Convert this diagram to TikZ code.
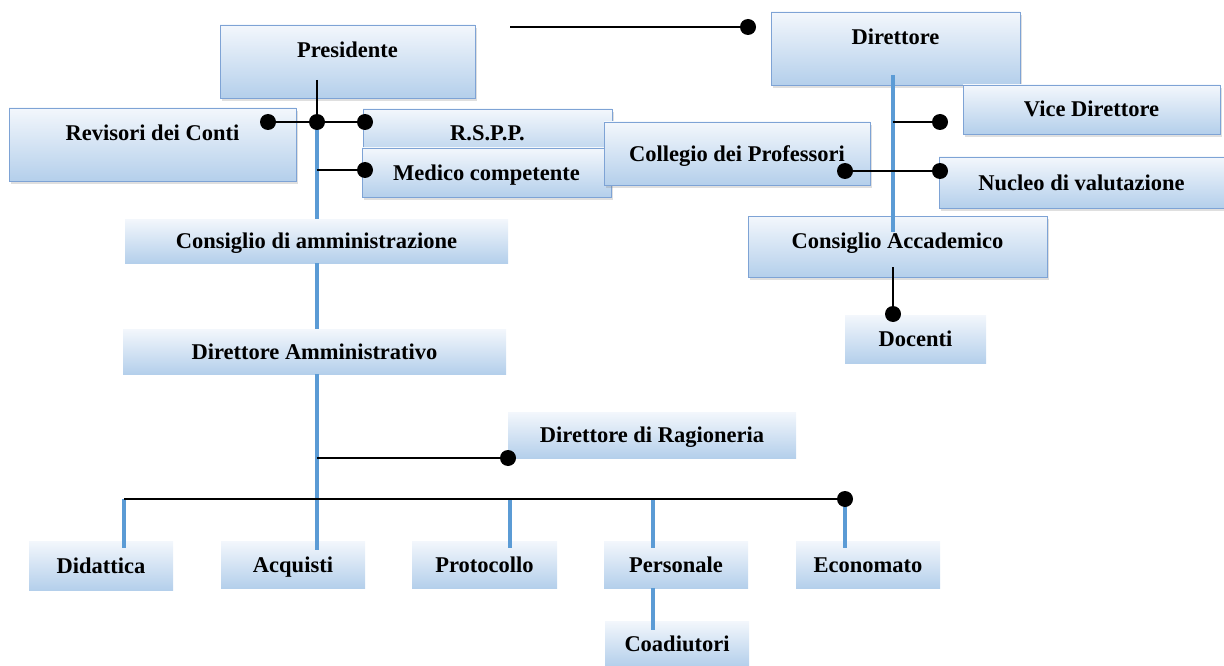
\documentclass[tikz,border=0pt]{standalone}
\usepackage{fontspec}
\setmainfont{Liberation Serif}
\usetikzlibrary{shadows}
\definecolor{boxtop}{HTML}{F3F7FC}
\definecolor{boxbot}{HTML}{B4CFEB}
\definecolor{boxline}{HTML}{7EA3D5}
\definecolor{linkblue}{HTML}{5B9BD5}

\begin{document}
\begin{tikzpicture}[x=1pt,y=-1pt,
    office/.style={rectangle,top color=boxtop,bottom color=boxbot,
		inner sep=0pt,text height=16pt,text depth=1pt,
		font=\fontsize{22.5}{26}\selectfont\bfseries},
    framed/.style={office,draw=boxline,thick,
		drop shadow={shadow xshift=2pt,shadow yshift=-3pt,opacity=0.25}},
% Text placed in the upper part of tall boxes
    toptext/.style={text depth=24pt},
% Connector styles
    vlink/.style={draw=linkblue,line width=4pt},
    hlink/.style={draw=black,line width=1.8pt},
    dot/.style={circle,fill=black,inner sep=0pt,minimum size=16pt}
    ]
   \useasboundingbox (0,0) rectangle (1224,666);
%%% Boxes, presidency side
   \node [framed,toptext,minimum width=255pt,minimum height=73pt] (pres) at (347.5,61.5) {Presidente};
   \node [framed,toptext,minimum width=287pt,minimum height=73pt] (rev) at (152.5,144.5) {Revisori dei Conti};
   \node [framed,text depth=4pt,minimum width=249pt,minimum height=51pt] (rspp) at (487.5,134.5) {R.S.P.P.};
   \node [framed,minimum width=249pt,minimum height=49pt] (med) at (486.5,172.5) {Medico competente};
   \node [office,minimum width=383pt,minimum height=44pt] (cda) at (316.5,241) {Consiglio di amministrazione};
   \node [office,minimum width=383pt,minimum height=45pt] (dam) at (314.5,351.5) {Direttore Amministrativo};
   \node [office,minimum width=288pt,minimum height=46pt] (drag) at (652,435) {Direttore di Ragioneria};
%%% Boxes, academic side
   \node [framed,minimum width=266pt,minimum height=63pt] (coll) at (737,153.5) {Collegio dei Professori};
   \node [framed,toptext,minimum width=249pt,minimum height=73pt] (dir) at (895.5,48.5) {Direttore};
   \node [framed,minimum width=257pt,minimum height=49pt] (vice) at (1091.5,109.5) {Vice Direttore};
   \node [framed,minimum width=285pt,minimum height=51pt] (nuc) at (1081.5,182.5) {Nucleo di valutazione};
   \node [framed,text depth=12pt,minimum width=299pt,minimum height=61pt] (cac) at (897.5,246.5) {Consiglio Accademico};
   \node [office,minimum width=141pt,minimum height=48pt] (doc) at (915.5,339) {Docenti};
%%% Offices
   \node [office,minimum width=144pt,minimum height=49pt] (did) at (101,565.5) {Didattica};
   \node [office,minimum width=144pt,minimum height=47pt] (acq) at (293,564.5) {Acquisti};
   \node [office,minimum width=145pt,minimum height=47pt] (prot) at (484.5,564.5) {Protocollo};
   \node [office,minimum width=144pt,minimum height=47pt] (pers) at (676,564.5) {Personale};
   \node [office,minimum width=144pt,minimum height=47pt] (eco) at (868,564.5) {Economato};
   \node [office,minimum width=144pt,minimum height=45pt] (coad) at (677,643.5) {Coadiutori};

%%% Junctions
   \coordinate (pstem) at (317,80);
   \coordinate (jtop) at (317,122);
   \coordinate (jrev) at (268,122);
   \coordinate (jrspp) at (365,122);
   \coordinate (jmedtr) at (317,170);
   \coordinate (jmed) at (365,170);
   \coordinate (jragtr) at (317,458);
   \coordinate (jrag) at (508,458);
   \coordinate (plink) at (510,27);
   \coordinate (jdir) at (748,27);
   \coordinate (dstem) at (893,75);
   \coordinate (jvicetr) at (893,122);
   \coordinate (jvice) at (940,122);
   \coordinate (jcoll) at (845,171);
   \coordinate (jnuc) at (940,171);
   \coordinate (cacstem) at (893,267);
   \coordinate (jdoc) at (893,314);
   \coordinate (bdid) at (124,499);
   \coordinate (bprot) at (510,499);
   \coordinate (bpers) at (653,499);
   \coordinate (jeco) at (845,499);

%%% Blue links
   \draw[vlink] (jtop) -- (cda.north -| jtop);
   \draw[vlink] (cda.south -| jtop) -- (dam.north -| jtop);
   \draw[vlink] (dam.south -| jtop) -- ([yshift=-9pt]acq.north -| jtop);
   \draw[vlink] (bdid) -- ([yshift=-7pt]did.north -| bdid);
   \draw[vlink] (bprot) -- ([yshift=-7pt]prot.north -| bprot);
   \draw[vlink] (bpers) -- ([yshift=-7pt]pers.north -| bpers);
   \draw[vlink] (jeco) -- ([yshift=-7pt]eco.north -| jeco);
   \draw[vlink] (pers.south -| bpers) -- ([yshift=-9pt]coad.north -| bpers);
   \draw[vlink] (dstem) -- ([yshift=-16pt]cac.north -| dstem);

%%% Black links
   \draw[hlink] (pstem) -- (jtop);
   \draw[hlink] (jrev) -- (jrspp);
   \draw[hlink] (jmedtr) -- (jmed);
   \draw[hlink] (jragtr) -- (jrag);
   \draw[hlink] (bdid) -- (jeco);
   \draw[hlink] (plink) -- (jdir);
   \draw[hlink] (jvicetr) -- (jvice);
   \draw[hlink] (jcoll) -- (jnuc);
   \draw[hlink] (cacstem) -- (jdoc);

   \foreach \j in {jtop,jrev,jrspp,jmed,jrag,jdir,jvice,jcoll,jnuc,jdoc,jeco}
       \node [dot] (\j-dot) at (\j) {};
\end{tikzpicture}
\end{document}
